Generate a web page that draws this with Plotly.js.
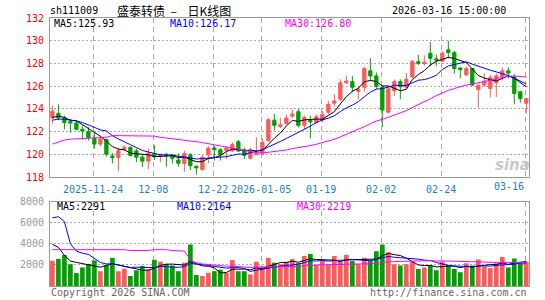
<!DOCTYPE html>
<html><head><meta charset="utf-8">
<script src="https://cdn.plot.ly/plotly-3.0.1.min.js"></script>
<style>html,body{margin:0;padding:0;background:#fff}#c{width:545px;height:300px}</style>
</head><body><div id="c"></div>
<script>
const dates = ['2025-11-13','2025-11-14','2025-11-17','2025-11-18','2025-11-19','2025-11-20','2025-11-21','2025-11-24','2025-11-25','2025-11-26','2025-11-27','2025-11-28',
'2025-12-01','2025-12-02','2025-12-03','2025-12-04','2025-12-05','2025-12-08','2025-12-09','2025-12-10','2025-12-11','2025-12-12','2025-12-15','2025-12-16','2025-12-17','2025-12-18','2025-12-19',
'2025-12-22','2025-12-23','2025-12-24','2025-12-25','2025-12-26','2025-12-29','2025-12-30','2025-12-31',
'2026-01-05','2026-01-06','2026-01-07','2026-01-08','2026-01-09','2026-01-12','2026-01-13','2026-01-14','2026-01-15','2026-01-16','2026-01-19','2026-01-20','2026-01-21','2026-01-22','2026-01-23','2026-01-26','2026-01-27','2026-01-28','2026-01-29','2026-01-30',
'2026-02-02','2026-02-03','2026-02-04','2026-02-05','2026-02-06','2026-02-09','2026-02-10','2026-02-11','2026-02-12','2026-02-13',
'2026-02-24','2026-02-25','2026-02-26','2026-02-27','2026-03-02','2026-03-03','2026-03-04','2026-03-05','2026-03-06','2026-03-09','2026-03-10','2026-03-11','2026-03-12','2026-03-13','2026-03-16'];

const openP = [123.2,123.6,123.2,122.9,122.75,122.2,122.0,121.4,120.9,121.3,119.85,119.7,120.45,120.6,120.3,119.75,119.4,120.05,119.8,120.0,
119.9,119.5,119.2,119.95,118.95,118.65,119.95,120.55,120.4,120.35,120.3,121.1,120.4,119.65,120.0,120.05,121.2,123.0,122.45,122.7,
123.35,123.75,122.55,123.0,122.8,123.0,123.7,124.5,124.85,126.3,126.4,125.55,125.9,127.35,126.9,125.9,123.7,125.6,126.4,125.9,
126.8,128.15,128.0,128.9,128.4,128.2,129.2,128.95,127.6,127.0,127.55,125.7,126.1,125.8,126.3,126.8,127.35,126.8,125.5,124.5];
const highP = [124.3,124.4,123.4,123.1,123.0,122.5,122.4,121.9,121.6,121.4,120.1,120.6,120.8,120.7,120.5,120.0,120.5,120.8,120.05,120.1,
120.0,120.1,120.3,120.1,119.0,119.9,120.7,120.75,120.55,120.7,121.05,121.25,120.6,120.6,121.5,121.4,123.2,123.55,123.2,123.5,
123.9,124.0,123.4,123.4,123.5,123.8,124.7,125.3,126.6,126.9,126.9,126.0,127.7,128.45,127.2,126.1,126.0,126.6,126.6,127.15,
128.3,128.75,128.7,129.9,128.8,129.1,130.0,129.1,127.65,127.75,127.6,126.2,127.1,127.0,127.1,127.65,127.65,127.05,125.6,124.95];
const lowP = [122.7,123.0,122.2,121.9,122.1,121.3,121.2,120.5,120.7,119.8,119.2,118.5,120.3,119.8,119.3,118.9,118.7,119.5,119.3,118.9,
119.2,118.9,118.45,118.6,118.2,118.55,119.2,119.45,119.45,119.6,120.2,120.2,119.6,119.55,119.9,119.9,121.1,122.1,122.3,122.6,
123.2,122.35,122.2,121.4,122.7,122.8,123.55,124.2,124.7,126.2,125.45,124.85,125.5,126.45,125.75,122.4,123.6,125.15,124.85,125.8,
126.7,127.85,127.8,127.75,127.75,128.1,128.45,127.1,126.7,126.9,126.0,124.1,125.95,125.0,125.05,126.5,126.7,124.4,124.55,123.6];
const closeP = [123.8,123.2,122.8,122.75,122.2,122.05,121.45,120.9,121.35,120.0,119.7,120.3,120.6,119.9,119.75,119.4,120.1,119.8,120.0,119.85,
119.65,119.2,120.05,119.0,118.8,119.75,120.55,120.4,119.95,120.55,120.85,120.3,119.9,120.3,120.1,121.05,123.05,122.55,122.6,123.2,
123.55,122.55,123.25,122.85,123.3,123.5,124.4,124.7,126.3,126.45,125.9,125.7,127.55,126.9,126.0,123.9,125.75,126.4,125.95,126.6,
128.15,128.0,128.1,128.45,128.3,128.9,128.95,127.55,127.45,127.55,126.1,126.05,126.4,126.75,126.9,127.35,127.15,125.35,124.9,124.9];
const volume = [2391,2572,2933,2061,1219,1760,2091,2422,1399,2001,2663,1399,1640,947,1489,1910,1549,2482,2302,2091,
1941,1399,2211,3926,1038,947,1248,1399,1549,1248,2451,1399,1399,1098,2302,1850,2663,2211,2061,2302,
2542,2151,2843,3024,2001,2362,2001,2843,2302,2963,2362,2061,2663,2362,3294,3926,3204,2061,1941,2061,
2302,1609,1760,1941,1489,2302,2001,1609,1308,2151,1941,2512,1850,1700,2151,2752,1760,2602,2151,2302];

// moving-average values for the days before a full window exists
const ma5Lead = [123.25,123.35,123.25,123.0];
const ma10Lead = [123.0,123.1,123.08,123.03,122.94,122.8,122.6,122.38,122.15];
const ma30Lead = [120.9,121.1,121.25,121.33,121.35,121.36,121.38,121.4,121.42,121.5,121.65,121.65,121.66,121.66,121.66,121.65,121.64,121.6,121.5,121.44,121.4,121.33,121.26,121.18,121.1,121.03,120.93,120.8,120.7];
const vma5Lead = [3955,3655,2903,2361];
const vma10Lead = [6450,6560,6100,4000,3300,3100,2990,2620,2230];
const vma30Lead = [3440,3440,3440,3440,3440,3440,3440,3440,3440,3440,3440,3440,3440,3360,3360,3360,3360,3440,3440,3440,3360,3360,3300,2500,2200,2080,2020,1960,1900];

const tickDates = ['2025-11-24','2025-12-08','2025-12-22','2026-01-05','2026-01-19','2026-02-02','2026-02-24','2026-03-16'];
const tickLabels = ['2025-11-24','12-08','12-22','2026-01-05','01-19','02-02','02-24','03-16'];
const priceTicks = [118,120,122,124,126,128,130,132];
const volTicks = [2000,4000,6000,8000];

function movAvg(arr, n, lead){
  return arr.map((v,i)=>{
    if(i < n-1) return lead[i];
    let s=0; for(let k=i-n+1;k<=i;k++) s+=arr[k]; return s/n;
  });
}
const xs = dates.map((d,i)=>i);
const RED = '#ff5a5a', GREEN = '#00a000';
const volColors = closeP.map((c,i)=> c >= openP[i] ? RED : GREEN);
const tickPos = tickDates.map(d=>dates.indexOf(d)-0.2);
// the last label is drawn pulled inside the frame, as in the original
const shownText = tickLabels.map((t,i)=> i === tickLabels.length-1 ? '' : t);

const mono = 'DejaVu Sans Mono, monospace';
const traces = [
  {type:'candlestick', x:xs, open:openP, high:highP, low:lowP, close:closeP, xaxis:'x', yaxis:'y',
   increasing:{line:{color:RED,width:1}, fillcolor:RED},
   decreasing:{line:{color:GREEN,width:1}, fillcolor:GREEN}, whiskerwidth:0, hoverinfo:'skip'},
  {type:'scatter', mode:'lines', x:xs, y:movAvg(closeP,5,ma5Lead), line:{color:'#000000',width:1}, xaxis:'x', yaxis:'y'},
  {type:'scatter', mode:'lines', x:xs, y:movAvg(closeP,10,ma10Lead), line:{color:'#0000ff',width:1}, xaxis:'x', yaxis:'y'},
  {type:'scatter', mode:'lines', x:xs, y:movAvg(closeP,30,ma30Lead), line:{color:'#ff00ff',width:1}, xaxis:'x', yaxis:'y'},
  {type:'bar', x:xs, y:volume, marker:{color:volColors, line:{width:0}}, xaxis:'x2', yaxis:'y2'},
  {type:'scatter', mode:'lines', x:xs, y:movAvg(volume,5,vma5Lead), line:{color:'#000000',width:1}, xaxis:'x2', yaxis:'y2'},
  {type:'scatter', mode:'lines', x:xs, y:movAvg(volume,10,vma10Lead), line:{color:'#0000ff',width:1}, xaxis:'x2', yaxis:'y2'},
  {type:'scatter', mode:'lines', x:xs, y:movAvg(volume,30,vma30Lead), line:{color:'#ff00ff',width:1}, xaxis:'x2', yaxis:'y2'}
];

const L=50, R=529, T=18, B=286;
const px = v => (v-L)/(R-L);
const py = v => (B-v)/(B-T);
function ann(text, x, y, color, xanchor, font){
  return {text, xref:'paper', yref:'paper', x:px(x), y:py(y), xanchor:xanchor||'left', yanchor:'middle',
    showarrow:false, font: Object.assign({family:mono, size:10, color:color}, font||{})};
}
const axX = {range:[-0.4,79.45], tickvals:tickPos, showgrid:true, gridcolor:'#aaaaaa', griddash:'5px,4px', gridwidth:1,
  showline:true, mirror:true, linecolor:'#999999', linewidth:1, zeroline:false, ticks:'', fixedrange:true,
  rangeslider:{visible:false}};
const layout = {
  width:545, height:300, margin:{l:L, r:545-R, t:T, b:300-B}, paper_bgcolor:'#fff', plot_bgcolor:'#fff',
  showlegend:false, hovermode:false, bargap:0.22, boxgap:0.22,
  xaxis: Object.assign({}, axX, {anchor:'y', ticktext:shownText, tickfont:{family:mono,size:10,color:'#1a7fc8'}, showticklabels:true, ticklabelstandoff:3}),
  xaxis2: Object.assign({}, axX, {anchor:'y2', matches:'x', showticklabels:false}),
  yaxis: {domain:[py(177),1], range:[118,132], tickvals:priceTicks, showgrid:true, gridcolor:'#aaaaaa', griddash:'2px,2px',
    showline:true, mirror:true, linecolor:'#999999', zeroline:false, ticks:'', tickfont:{family:mono,size:10,color:'#ff0000'}, ticklabelstandoff:3},
  yaxis2: {domain:[0,py(201.5)], range:[0,8000], tickvals:volTicks, showgrid:true, gridcolor:'#aaaaaa', griddash:'2px,2px',
    showline:true, mirror:true, linecolor:'#999999', zeroline:false, ticks:'', tickfont:{family:mono,size:10,color:'#999999'}, ticklabelstandoff:3},
  annotations:[
    ann('sh111009', 48, 11, '#000'),
    ann('盛泰转债\u00a0\u00a0–\u00a0\u00a0\u00a0\u00a0日K线图', 115, 11, '#000', 'left', {family:'Noto Sans CJK SC', size:12}),
    ann('2026-03-16 15:00:00', 508, 11, '#000', 'right'),
    ann('MA5:125.93', 52, 23.5, '#000'),
    ann('MA10:126.17', 167.5, 23.5, '#0000ff'),
    ann('MA30:126.80', 282.5, 23.5, '#ff00ff'),
    ann('MA5:2291', 54.5, 206, '#000'),
    ann('MA10:2164', 174.5, 206, '#0000ff'),
    ann('MA30:2219', 294.5, 206, '#ff00ff'),
    ann(tickLabels[tickLabels.length-1], 508.5, 186.5, '#1a7fc8', 'center'),
    ann('Copyright 2026 SINA.COM', 49, 292, '#666666'),
    ann('http://finance.sina.com.cn', 529, 292, '#666666', 'right'),
    ann('<b><i>sina</i></b>', 512, 165, '#c8c8c8', 'center', {family:'DejaVu Sans', size:15})
  ]
};
Plotly.newPlot('c', traces, layout, {staticPlot:true, displayModeBar:false});
</script></body></html>
